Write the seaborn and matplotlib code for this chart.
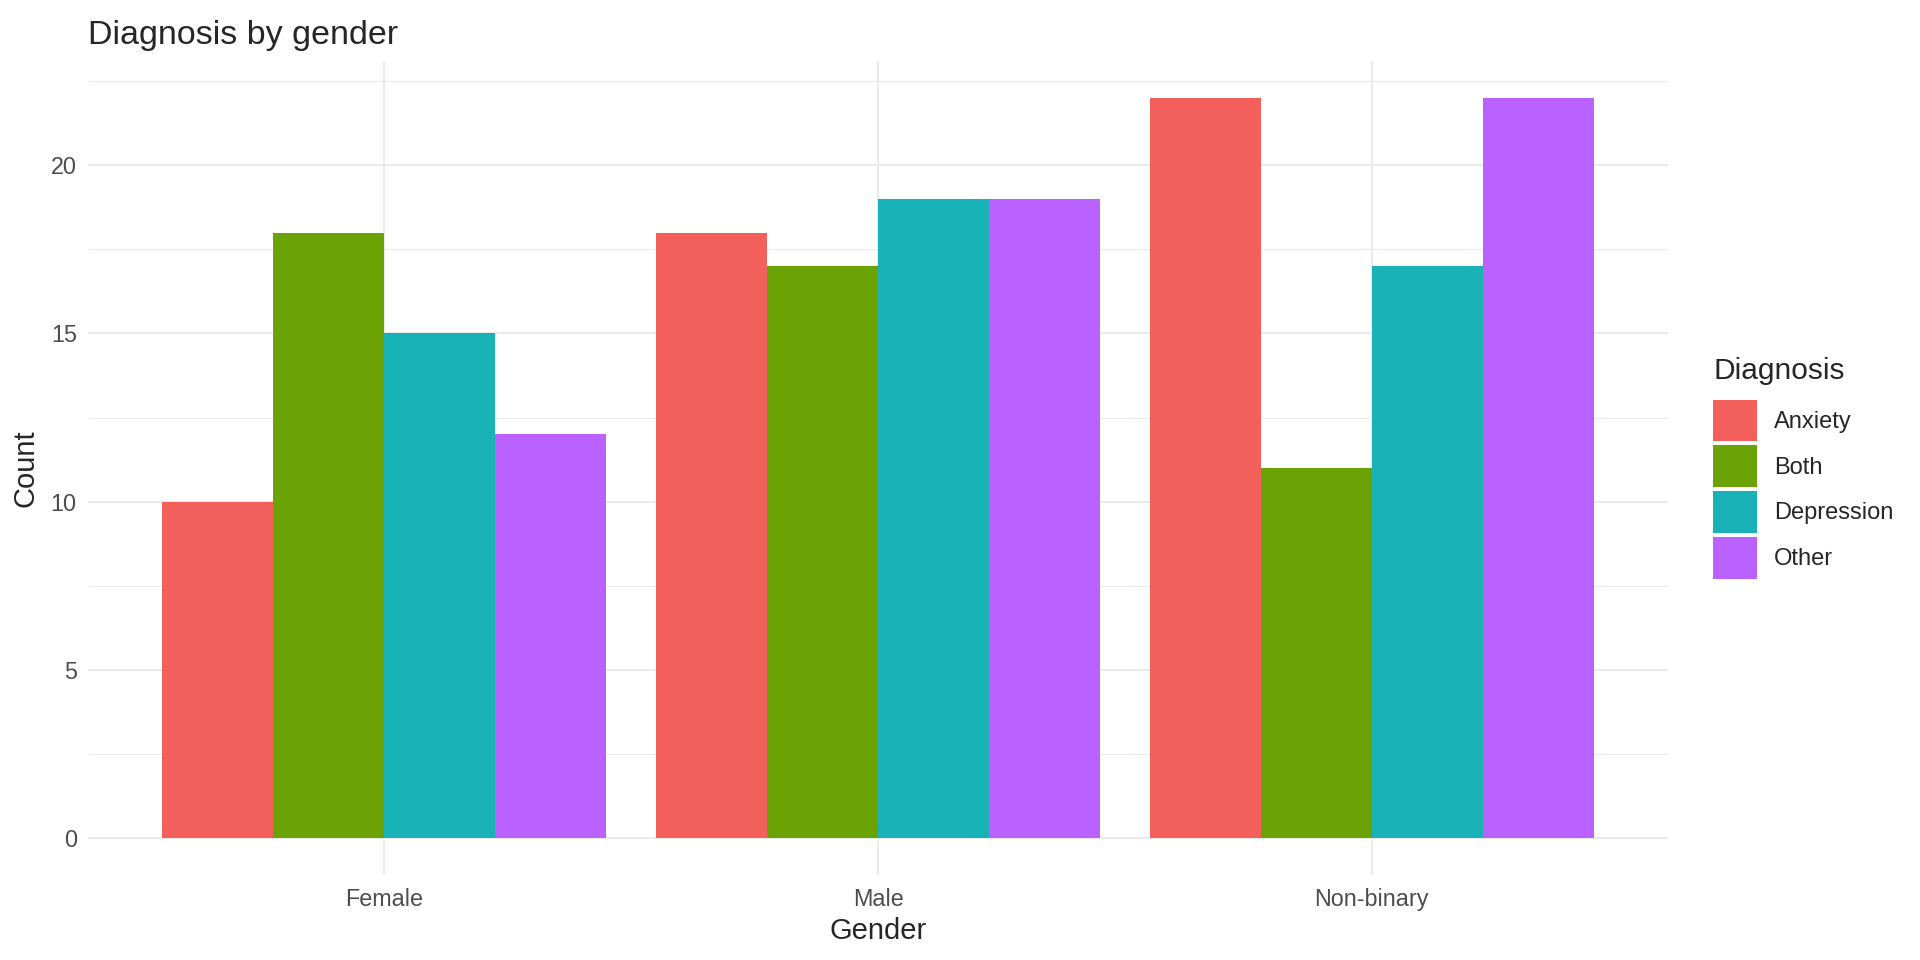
import pandas as pd
import numpy as np
import seaborn as sns
import matplotlib.pyplot as plt
from matplotlib.ticker import MultipleLocator

# data
genders = ['Female', 'Male', 'Non-binary']
diagnoses = ['Anxiety', 'Both', 'Depression', 'Other']
anxiety = [10, 18, 22]
both = [18, 17, 11]
depression = [15, 19, 17]
other = [12, 19, 22]

colors = ['#F35F5A', '#6BA304', '#19B2B6', '#B962FF']

rows = []
for diag, vals in zip(diagnoses, [anxiety, both, depression, other]):
    for g, v in zip(genders, vals):
        rows.append({'Gender': g, 'Diagnosis': diag, 'Count': v})
df = pd.DataFrame(rows)

sns.set_style('white')
plt.rcParams['font.family'] = ['Liberation Sans', 'DejaVu Sans']

fig = plt.figure(figsize=(19.2, 9.6), dpi=100)
ax = fig.add_axes([0.0458, 0.0885, 0.8688 - 0.0458, 0.9365 - 0.0885])

sns.barplot(data=df, x='Gender', y='Count', hue='Diagnosis', order=genders,
            hue_order=diagnoses, palette=colors, width=0.9, gap=0,
            saturation=1, errorbar=None, linewidth=0, ax=ax)

ax.set_xlim(-0.6, 2.6)
ax.set_ylim(-1.1, 23.1)
ax.yaxis.set_major_locator(MultipleLocator(5))
ax.yaxis.set_minor_locator(MultipleLocator(2.5))
ax.set_axisbelow(True)
ax.grid(which='major', axis='both', color='#EBEBEB', linewidth=1.5)
ax.grid(which='minor', axis='y', color='#EBEBEB', linewidth=0.8)
for s in ax.spines.values():
    s.set_visible(False)
ax.tick_params(which='both', length=0, labelsize=16.8, labelcolor='#4D4D4D')
ax.tick_params(axis='y', pad=8)
ax.tick_params(axis='x', pad=9)

ax.set_xlabel('Gender', fontsize=21, labelpad=5)
ax.set_ylabel('Count', fontsize=21, labelpad=8)
ax.set_title('Diagnosis by gender', fontsize=24.5, loc='left', pad=12)

leg = ax.legend(title='Diagnosis', loc='upper left', bbox_to_anchor=(1.0225, 0.648),
                frameon=False, fontsize=17, title_fontsize=21.5,
                handlelength=1.86, handleheight=2.35, labelspacing=0.17,
                handletextpad=0.72, borderaxespad=0, alignment='left')
# more room between legend title and keys
leg._legend_box.sep = 10.5

fig.savefig('out.png', dpi=100, facecolor='white')
